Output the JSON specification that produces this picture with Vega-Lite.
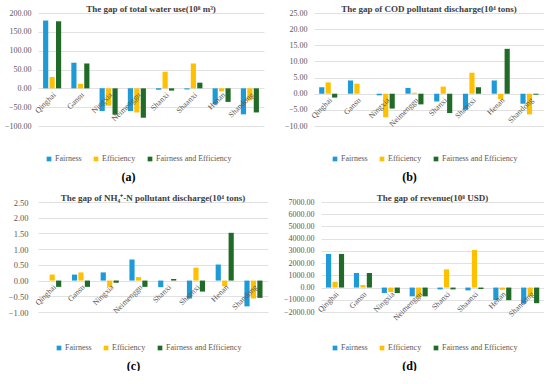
{
  "$schema": "https://vega.github.io/schema/vega-lite/v6.json",
  "background": "white",
  "padding": {"left": 4, "top": 5, "right": 0, "bottom": 0},
  "datasets": {
    "regions": [
      {"region": "Qinghai"}, {"region": "Gansu"}, {"region": "Ningxia"}, {"region": "Neimenggu"},
      {"region": "Shanxi"}, {"region": "Shaanxi"}, {"region": "Henan"}, {"region": "Shandong"}
    ],
    "water": [
      {"region": "Qinghai", "series": "Fairness", "value": 180}, {"region": "Qinghai", "series": "Efficiency", "value": 30}, {"region": "Qinghai", "series": "Fairness and Efficiency", "value": 178},
      {"region": "Gansu", "series": "Fairness", "value": 68}, {"region": "Gansu", "series": "Efficiency", "value": 12}, {"region": "Gansu", "series": "Fairness and Efficiency", "value": 66},
      {"region": "Ningxia", "series": "Fairness", "value": -60}, {"region": "Ningxia", "series": "Efficiency", "value": -46}, {"region": "Ningxia", "series": "Fairness and Efficiency", "value": -70},
      {"region": "Neimenggu", "series": "Fairness", "value": -60}, {"region": "Neimenggu", "series": "Efficiency", "value": -64}, {"region": "Neimenggu", "series": "Fairness and Efficiency", "value": -78},
      {"region": "Shanxi", "series": "Fairness", "value": -4}, {"region": "Shanxi", "series": "Efficiency", "value": 44}, {"region": "Shanxi", "series": "Fairness and Efficiency", "value": -6},
      {"region": "Shaanxi", "series": "Fairness", "value": -3}, {"region": "Shaanxi", "series": "Efficiency", "value": 66}, {"region": "Shaanxi", "series": "Fairness and Efficiency", "value": 15},
      {"region": "Henan", "series": "Fairness", "value": -42}, {"region": "Henan", "series": "Efficiency", "value": -8}, {"region": "Henan", "series": "Fairness and Efficiency", "value": -36},
      {"region": "Shandong", "series": "Fairness", "value": -69}, {"region": "Shandong", "series": "Efficiency", "value": -32}, {"region": "Shandong", "series": "Fairness and Efficiency", "value": -64}
    ],
    "cod": [
      {"region": "Qinghai", "series": "Fairness", "value": 2.0}, {"region": "Qinghai", "series": "Efficiency", "value": 3.5}, {"region": "Qinghai", "series": "Fairness and Efficiency", "value": -1.2},
      {"region": "Gansu", "series": "Fairness", "value": 4.1}, {"region": "Gansu", "series": "Efficiency", "value": 3.1}, {"region": "Gansu", "series": "Fairness and Efficiency", "value": 0},
      {"region": "Ningxia", "series": "Fairness", "value": -0.5}, {"region": "Ningxia", "series": "Efficiency", "value": -7.3}, {"region": "Ningxia", "series": "Fairness and Efficiency", "value": -4.6},
      {"region": "Neimenggu", "series": "Fairness", "value": 1.8}, {"region": "Neimenggu", "series": "Efficiency", "value": 0.3}, {"region": "Neimenggu", "series": "Fairness and Efficiency", "value": -3.3},
      {"region": "Shanxi", "series": "Fairness", "value": -2.4}, {"region": "Shanxi", "series": "Efficiency", "value": 2.2}, {"region": "Shanxi", "series": "Fairness and Efficiency", "value": -6.0},
      {"region": "Shaanxi", "series": "Fairness", "value": -4.9}, {"region": "Shaanxi", "series": "Efficiency", "value": 6.5}, {"region": "Shaanxi", "series": "Fairness and Efficiency", "value": 2.0},
      {"region": "Henan", "series": "Fairness", "value": 4.1}, {"region": "Henan", "series": "Efficiency", "value": -1.7}, {"region": "Henan", "series": "Fairness and Efficiency", "value": 13.9},
      {"region": "Shandong", "series": "Fairness", "value": -3.1}, {"region": "Shandong", "series": "Efficiency", "value": -6.4}, {"region": "Shandong", "series": "Fairness and Efficiency", "value": -0.3}
    ],
    "nh4": [
      {"region": "Qinghai", "series": "Fairness", "value": 0}, {"region": "Qinghai", "series": "Efficiency", "value": 0.19}, {"region": "Qinghai", "series": "Fairness and Efficiency", "value": -0.2},
      {"region": "Gansu", "series": "Fairness", "value": 0.19}, {"region": "Gansu", "series": "Efficiency", "value": 0.26}, {"region": "Gansu", "series": "Fairness and Efficiency", "value": -0.2},
      {"region": "Ningxia", "series": "Fairness", "value": 0.26}, {"region": "Ningxia", "series": "Efficiency", "value": -0.2}, {"region": "Ningxia", "series": "Fairness and Efficiency", "value": -0.07},
      {"region": "Neimenggu", "series": "Fairness", "value": 0.67}, {"region": "Neimenggu", "series": "Efficiency", "value": 0.11}, {"region": "Neimenggu", "series": "Fairness and Efficiency", "value": -0.2},
      {"region": "Shanxi", "series": "Fairness", "value": -0.21}, {"region": "Shanxi", "series": "Efficiency", "value": 0}, {"region": "Shanxi", "series": "Fairness and Efficiency", "value": 0.05},
      {"region": "Shaanxi", "series": "Fairness", "value": -0.57}, {"region": "Shaanxi", "series": "Efficiency", "value": 0.41}, {"region": "Shaanxi", "series": "Fairness and Efficiency", "value": -0.35},
      {"region": "Henan", "series": "Fairness", "value": 0.51}, {"region": "Henan", "series": "Efficiency", "value": -0.18}, {"region": "Henan", "series": "Fairness and Efficiency", "value": 1.52},
      {"region": "Shandong", "series": "Fairness", "value": -0.82}, {"region": "Shandong", "series": "Efficiency", "value": -0.57}, {"region": "Shandong", "series": "Fairness and Efficiency", "value": -0.55}
    ],
    "rev": [
      {"region": "Qinghai", "series": "Fairness", "value": 2750}, {"region": "Qinghai", "series": "Efficiency", "value": 470}, {"region": "Qinghai", "series": "Fairness and Efficiency", "value": 2750},
      {"region": "Gansu", "series": "Fairness", "value": 1190}, {"region": "Gansu", "series": "Efficiency", "value": 200}, {"region": "Gansu", "series": "Fairness and Efficiency", "value": 1190},
      {"region": "Ningxia", "series": "Fairness", "value": -450}, {"region": "Ningxia", "series": "Efficiency", "value": -370}, {"region": "Ningxia", "series": "Fairness and Efficiency", "value": -450},
      {"region": "Neimenggu", "series": "Fairness", "value": -720}, {"region": "Neimenggu", "series": "Efficiency", "value": -820}, {"region": "Neimenggu", "series": "Fairness and Efficiency", "value": -720},
      {"region": "Shanxi", "series": "Fairness", "value": -150}, {"region": "Shanxi", "series": "Efficiency", "value": 1490}, {"region": "Shanxi", "series": "Fairness and Efficiency", "value": -150},
      {"region": "Shaanxi", "series": "Fairness", "value": -230}, {"region": "Shaanxi", "series": "Efficiency", "value": 3080}, {"region": "Shaanxi", "series": "Fairness and Efficiency", "value": -120},
      {"region": "Henan", "series": "Fairness", "value": -1030}, {"region": "Henan", "series": "Efficiency", "value": -180}, {"region": "Henan", "series": "Fairness and Efficiency", "value": -1030},
      {"region": "Shandong", "series": "Fairness", "value": -1320}, {"region": "Shandong", "series": "Efficiency", "value": -720}, {"region": "Shandong", "series": "Fairness and Efficiency", "value": -1280}
    ]
  },
  "config": {
    "view": {"stroke": null},
    "font": "Liberation Serif",
    "axis": {"labelFont": "Liberation Serif", "labelFontSize": 8, "labelColor": "#595959", "gridColor": "#d9d9d9", "gridWidth": 0.8, "domain": false, "ticks": false},
    "legend": {"labelFont": "Liberation Serif", "labelFontSize": 8, "labelColor": "#595959", "symbolType": "square", "symbolSize": 22, "symbolStrokeWidth": 0, "columnPadding": 10, "labelOffset": 2, "padding": 0, "direction": "horizontal", "columns": 3, "title": null},
    "title": {"font": "Liberation Serif", "fontSize": 9, "fontWeight": "bold", "color": "#404040", "offset": -5},
    "bar": {"strokeWidth": 0}
  },
  "resolve": {"scale": {"color": "independent"}, "legend": {"color": "independent"}},
  "spacing": 12,
  "vconcat": [
    {
      "resolve": {"scale": {"color": "independent"}, "legend": {"color": "independent"}},
      "spacing": 20,
      "hconcat": [
        {
          "width": 226, "height": 113,
          "title": {"text": "The gap of total water use(10⁸ m³)"},
          "encoding": {"x": {"field": "region", "type": "nominal", "sort": ["Qinghai","Gansu","Ningxia","Neimenggu","Shanxi","Shaanxi","Henan","Shandong"], "scale": {"paddingInner": 0.36, "paddingOuter": 0.18}, "axis": {"labels": false, "grid": false, "title": "(a)", "titleX": 90, "titlePadding": 45, "titleFont": "Liberation Serif", "titleFontSize": 12, "titleFontWeight": "bold", "titleColor": "#000000"}}},
          "layer": [
            {"data": {"name": "water"}, "mark": {"type": "bar"},
             "encoding": {
               "xOffset": {"field": "series", "type": "nominal", "sort": ["Fairness","Efficiency","Fairness and Efficiency"], "scale": {"paddingInner": 0.2, "paddingOuter": 0}},
               "y": {"field": "value", "type": "quantitative", "title": null, "scale": {"domain": [-100, 200], "nice": false, "zero": false}, "axis": {"values": [-100,-50,0,50,100,150,200], "format": ".2f", "title": null, "labelPadding": 7}},
               "color": {"field": "series", "type": "nominal", "sort": ["Fairness","Efficiency","Fairness and Efficiency"], "scale": {"domain": ["Fairness","Efficiency","Fairness and Efficiency"], "range": ["#1e9ad6","#ffc000","#1f6b27"]}, "legend": {"orient": "none", "legendX": 7, "legendY": 142}}
             }},
            {"data": {"name": "regions"}, "mark": {"type": "text", "angle": 315, "align": "right", "baseline": "middle", "dx": -2, "dy": 6, "font": "Liberation Serif", "fontSize": 8, "color": "#595959"},
             "encoding": {"y": {"datum": 0, "type": "quantitative", "title": null, "axis": {"values": [-100,-50,0,50,100,150,200], "format": ".2f", "title": null, "labelPadding": 7}}, "text": {"field": "region"}}}
          ]
        },
        {
          "width": 230, "height": 113,
          "title": {"text": "The gap of COD pollutant discharge(10⁴ tons)"},
          "encoding": {"x": {"field": "region", "type": "nominal", "sort": ["Qinghai","Gansu","Ningxia","Neimenggu","Shanxi","Shaanxi","Henan","Shandong"], "scale": {"paddingInner": 0.36, "paddingOuter": 0.18}, "axis": {"labels": false, "grid": false, "title": "(b)", "titleX": 95, "titlePadding": 45, "titleFont": "Liberation Serif", "titleFontSize": 12, "titleFontWeight": "bold", "titleColor": "#000000"}}},
          "layer": [
            {"data": {"name": "cod"}, "mark": {"type": "bar"},
             "encoding": {
               "xOffset": {"field": "series", "type": "nominal", "sort": ["Fairness","Efficiency","Fairness and Efficiency"], "scale": {"paddingInner": 0.2, "paddingOuter": 0}},
               "y": {"field": "value", "type": "quantitative", "title": null, "scale": {"domain": [-10, 25], "nice": false, "zero": false}, "axis": {"values": [-10,-5,0,5,10,15,20,25], "format": ".2f", "title": null, "labelPadding": 7}},
               "color": {"field": "series", "type": "nominal", "sort": ["Fairness","Efficiency","Fairness and Efficiency"], "scale": {"domain": ["Fairness","Efficiency","Fairness and Efficiency"], "range": ["#1e9ad6","#ffc000","#1f6b27"]}, "legend": {"orient": "none", "legendX": 17, "legendY": 142}}
             }},
            {"data": {"name": "regions"}, "mark": {"type": "text", "angle": 315, "align": "right", "baseline": "middle", "dx": -2, "dy": 6, "font": "Liberation Serif", "fontSize": 8, "color": "#595959"},
             "encoding": {"y": {"datum": 0, "type": "quantitative", "title": null, "axis": {"values": [-10,-5,0,5,10,15,20,25], "format": ".2f", "title": null, "labelPadding": 7}}, "text": {"field": "region"}}}
          ]
        }
      ]
    },
    {
      "resolve": {"scale": {"color": "independent"}, "legend": {"color": "independent"}},
      "spacing": 15,
      "hconcat": [
        {
          "width": 230, "height": 110,
          "title": {"text": "The gap of NH₄⁺-N pollutant discharge(10⁴ tons)"},
          "encoding": {"x": {"field": "region", "type": "nominal", "sort": ["Qinghai","Gansu","Ningxia","Neimenggu","Shanxi","Shaanxi","Henan","Shandong"], "scale": {"paddingInner": 0.36, "paddingOuter": 0.18}, "axis": {"labels": false, "grid": false, "title": "(c)", "titleX": 95, "titlePadding": 48, "titleFont": "Liberation Serif", "titleFontSize": 12, "titleFontWeight": "bold", "titleColor": "#000000"}}},
          "layer": [
            {"data": {"name": "nh4"}, "mark": {"type": "bar"},
             "encoding": {
               "xOffset": {"field": "series", "type": "nominal", "sort": ["Fairness","Efficiency","Fairness and Efficiency"], "scale": {"paddingInner": 0.2, "paddingOuter": 0}},
               "y": {"field": "value", "type": "quantitative", "title": null, "scale": {"domain": [-1, 2.5], "nice": false, "zero": false}, "axis": {"values": [-1,-0.5,0,0.5,1,1.5,2,2.5], "format": ".2f", "title": null, "labelPadding": 10, "labelFontSize": 8.5}},
               "color": {"field": "series", "type": "nominal", "sort": ["Fairness","Efficiency","Fairness and Efficiency"], "scale": {"domain": ["Fairness","Efficiency","Fairness and Efficiency"], "range": ["#1e9ad6","#ffc000","#1f6b27"]}, "legend": {"orient": "none", "legendX": 17, "legendY": 142}}
             }},
            {"data": {"name": "regions"}, "mark": {"type": "text", "angle": 315, "align": "right", "baseline": "middle", "dx": -2, "dy": 6, "font": "Liberation Serif", "fontSize": 8, "color": "#595959"},
             "encoding": {"y": {"datum": 0, "type": "quantitative", "title": null, "axis": {"values": [-1,-0.5,0,0.5,1,1.5,2,2.5], "format": ".2f", "title": null, "labelPadding": 10, "labelFontSize": 8.5}}, "text": {"field": "region"}}}
          ]
        },
        {
          "width": 223, "height": 110,
          "title": {"text": "The gap of revenue(10⁸ USD)"},
          "encoding": {"x": {"field": "region", "type": "nominal", "sort": ["Qinghai","Gansu","Ningxia","Neimenggu","Shanxi","Shaanxi","Henan","Shandong"], "scale": {"paddingInner": 0.36, "paddingOuter": 0.18}, "axis": {"labels": false, "grid": false, "title": "(d)", "titleX": 88, "titlePadding": 48, "titleFont": "Liberation Serif", "titleFontSize": 12, "titleFontWeight": "bold", "titleColor": "#000000"}}},
          "layer": [
            {"data": {"name": "rev"}, "mark": {"type": "bar"},
             "encoding": {
               "xOffset": {"field": "series", "type": "nominal", "sort": ["Fairness","Efficiency","Fairness and Efficiency"], "scale": {"paddingInner": 0.2, "paddingOuter": 0}},
               "y": {"field": "value", "type": "quantitative", "title": null, "scale": {"domain": [-2000, 7000], "nice": false, "zero": false}, "axis": {"values": [-2000,-1000,0,1000,2000,3000,4000,5000,6000,7000], "format": ".2f", "title": null, "labelPadding": 7}},
               "color": {"field": "series", "type": "nominal", "sort": ["Fairness","Efficiency","Fairness and Efficiency"], "scale": {"domain": ["Fairness","Efficiency","Fairness and Efficiency"], "range": ["#1e9ad6","#ffc000","#1f6b27"]}, "legend": {"orient": "none", "legendX": 10, "legendY": 142}}
             }},
            {"data": {"name": "regions"}, "mark": {"type": "text", "angle": 315, "align": "right", "baseline": "middle", "dx": -2, "dy": 6, "font": "Liberation Serif", "fontSize": 8, "color": "#595959"},
             "encoding": {"y": {"datum": 0, "type": "quantitative", "title": null, "axis": {"values": [-2000,-1000,0,1000,2000,3000,4000,5000,6000,7000], "format": ".2f", "title": null, "labelPadding": 7}}, "text": {"field": "region"}}}
          ]
        }
      ]
    }
  ]
}
